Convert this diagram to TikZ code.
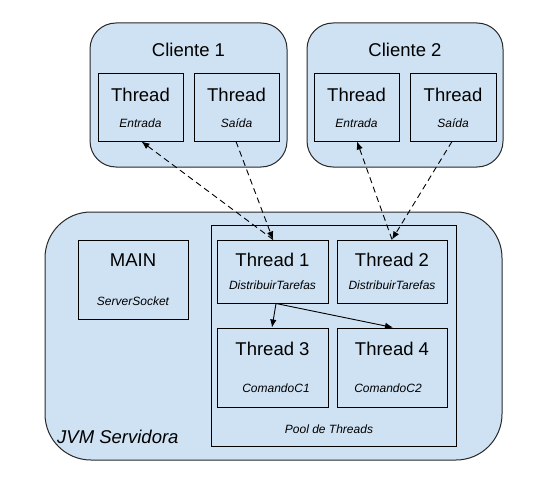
\documentclass[tikz,border=0pt]{standalone}
\usepackage{fontspec}
\setmainfont{Liberation Sans}
\usetikzlibrary{arrows.meta}
\definecolor{lblue}{RGB}{207,226,243}
\definecolor{edge}{RGB}{40,40,40}
\tikzset{
  outerbox/.style={draw=edge, fill=lblue, line width=1pt, inner sep=0pt},
  innerbox/.style={draw=black, fill=lblue, line width=1pt, inner sep=0pt},
  bigtxt/.style={inner sep=0pt, font=\fontsize{18.5}{20}\selectfont},
  smalltxt/.style={inner sep=0pt, font=\fontsize{12}{14}\selectfont\itshape},
  dashconn/.style={draw=black, line width=0.9pt, dash pattern=on 6pt off 4pt, -{Latex[length=8pt,width=6.5pt]}},
  solidconn/.style={draw=black, line width=0.9pt, -{Latex[length=8pt,width=6.5pt]}},
}
\begin{document}
\begin{tikzpicture}[x=1pt,y=-1pt]
\useasboundingbox (0,0) rectangle (553,492);
\fill[white] (0,0) rectangle (553,492);
% Clients
\node[outerbox, rounded corners=26pt, minimum width=197pt, minimum height=144pt] (c1) at (188.5,95) {};
\node[outerbox, rounded corners=26pt, minimum width=196pt, minimum height=144pt] (c2) at (405,95) {};
\node[bigtxt] (c1t) at (188.5,50) {Cliente 1};
\node[bigtxt] (c2t) at (405,50) {Cliente 2};
\node[innerbox, minimum width=85pt, minimum height=67pt] (e1) at (140.5,107.5) {};
\node[innerbox, minimum width=85pt, minimum height=67pt] (s1) at (236.5,107.5) {};
\node[innerbox, minimum width=85pt, minimum height=67pt] (e2) at (356.5,107.5) {};
\node[innerbox, minimum width=86pt, minimum height=67pt] (s2) at (453,107.5) {};
\node[bigtxt] (e1a) at (140.5,94.5) {Thread};
\node[smalltxt] (e1b) at (140.5,123) {Entrada};
\node[bigtxt] (s1a) at (236.5,94.5) {Thread};
\node[smalltxt] (s1b) at (236.5,123) {Saída};
\node[bigtxt] (e2a) at (356.5,94.5) {Thread};
\node[smalltxt] (e2b) at (356.5,123) {Entrada};
\node[bigtxt] (s2a) at (453,94.5) {Thread};
\node[smalltxt] (s2b) at (453,123) {Saída};
% Server
\node[outerbox, rounded corners=46pt, minimum width=457pt, minimum height=248pt] (jvm) at (273.5,336) {};
\node[bigtxt, font=\fontsize{18.5}{20}\selectfont\itshape, anchor=west] (jvmt) at (57,436.5) {JVM Servidora};
\node[innerbox, minimum width=110pt, minimum height=79pt] (main) at (133,279.5) {};
\node[bigtxt] (maina) at (133,260) {MAIN};
\node[smalltxt] (mainb) at (133,301) {ServerSocket};
\node[innerbox, minimum width=245pt, minimum height=221pt] (pool) at (333.5,336) {};
\node[smalltxt] (poolt) at (329,429.5) {Pool de Threads};
\node[innerbox, minimum width=111pt, minimum height=63pt] (t1) at (272.5,271.5) {};
\node[innerbox, minimum width=110pt, minimum height=63pt] (t2) at (392,271.5) {};
\node[innerbox, minimum width=111pt, minimum height=79pt] (t3) at (272.5,367.5) {};
\node[innerbox, minimum width=110pt, minimum height=79pt] (t4) at (392,367.5) {};
\node[bigtxt] (t1a) at (272.5,260) {Thread 1};
\node[smalltxt] (t1b) at (272.5,285) {DistribuirTarefas};
\node[bigtxt] (t2a) at (392,260) {Thread 2};
\node[smalltxt] (t2b) at (392,285) {DistribuirTarefas};
\node[bigtxt] (t3a) at (272.5,349) {Thread 3};
\node[smalltxt] (t3b) at (276,388.5) {ComandoC1};
\node[bigtxt] (t4a) at (392,349) {Thread 4};
\node[smalltxt] (t4b) at (388,388.5) {ComandoC2};
% connectors
\draw[dashconn] ([xshift=0.5pt]t1.north) -- ([xshift=1pt]e1.south);
\draw[dashconn] ([xshift=-0.5pt]s1.south) -- ([xshift=0.5pt]t1.north);
\draw[dashconn] (t2.north) -- ([xshift=0.5pt]e2.south);
\draw[dashconn] ([xshift=-1pt]s2.south) -- (t2.north);
\draw[solidconn] ([xshift=3.5pt]t1.south) -- ([xshift=-0.5pt]t3.north);
\draw[solidconn] ([xshift=3.5pt]t1.south) -- ([xshift=1pt]t4.north);
\end{tikzpicture}
\end{document}
